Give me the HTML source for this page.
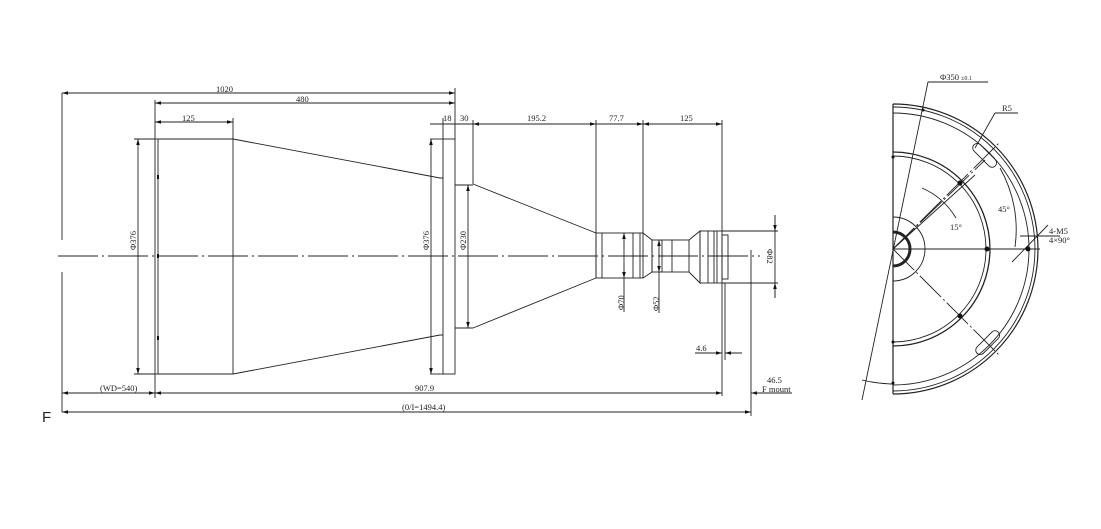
<!DOCTYPE html>
<html><head><meta charset="utf-8"><style>
html,body{margin:0;padding:0;background:#fff;width:1101px;height:529px;overflow:hidden}
svg{display:block}
text{font-family:"Liberation Serif",serif;font-size:8.5px;fill:#222}
</style></head><body>
<svg width="1101" height="529" viewBox="0 0 1101 529" xmlns="http://www.w3.org/2000/svg">
<defs>
<marker id="a" viewBox="0 0 10 6" refX="10" refY="3" markerWidth="8" markerHeight="4" orient="auto-start-reverse"><path d="M0,0L10,3L0,6z" fill="#111"/></marker>
</defs>
<g stroke="#222" stroke-width="0.9" fill="none">
<line x1="58" y1="256" x2="760" y2="256" stroke-dasharray="40,4,2,4"/>
<rect x="155" y="139" width="3" height="235"/>
<line x1="158" y1="139" x2="233" y2="139"/><line x1="158" y1="374" x2="233" y2="374"/>
<line x1="233" y1="139" x2="233" y2="374"/>
<path d="M233,139L440,178L443,178M440,335L233,374M440,335L443,335"/>
<line x1="430" y1="139" x2="443" y2="139"/><line x1="430" y1="374" x2="443" y2="374"/>
<rect x="443" y="139" width="12" height="235"/>
<line x1="455" y1="185" x2="473" y2="185"/><line x1="455" y1="328" x2="473" y2="328"/>
<path d="M473,184L596,233L596,278L473,328"/>
<rect x="596" y="233" width="47" height="45"/>
<line x1="602" y1="233" x2="602" y2="278"/><line x1="633" y1="233" x2="633" y2="278"/><line x1="640" y1="233" x2="640" y2="278"/>
<path d="M643,233L652,240L652,272L643,278"/>
<rect x="652" y="240" width="37" height="32"/>
<line x1="662" y1="240" x2="662" y2="272"/><line x1="672" y1="240" x2="672" y2="272"/>
<path d="M689,240L700,231L700,283L689,272"/>
<rect x="700" y="231" width="22" height="52"/>
<line x1="708" y1="231" x2="708" y2="283"/><line x1="714" y1="231" x2="714" y2="283"/><line x1="717" y1="231" x2="717" y2="283"/>
<rect x="722" y="235" width="6" height="44"/>
<line x1="62" y1="93" x2="455" y2="93" marker-start="url(#a)" marker-end="url(#a)"/>
<line x1="155" y1="103" x2="455" y2="103" marker-start="url(#a)" marker-end="url(#a)"/>
<line x1="155" y1="122" x2="233" y2="122" marker-start="url(#a)" marker-end="url(#a)"/>
<line x1="155" y1="100" x2="155" y2="139"/><line x1="233" y1="118" x2="233" y2="139"/>
<line x1="455" y1="88" x2="455" y2="139"/>
<line x1="443" y1="118" x2="443" y2="139"/>
<line x1="473" y1="120" x2="473" y2="184"/>
<line x1="596" y1="120" x2="596" y2="233"/><line x1="643" y1="120" x2="643" y2="233"/><line x1="722" y1="120" x2="722" y2="231"/>
<line x1="430" y1="124" x2="722" y2="124"/>
<line x1="473" y1="124" x2="596" y2="124" marker-start="url(#a)" marker-end="url(#a)"/>
<line x1="596" y1="124" x2="643" y2="124" marker-end="url(#a)"/>
<line x1="643" y1="124" x2="722" y2="124" marker-start="url(#a)" marker-end="url(#a)"/>
<line x1="138" y1="139" x2="138" y2="374" marker-start="url(#a)" marker-end="url(#a)"/>
<line x1="134" y1="139" x2="155" y2="139"/><line x1="134" y1="374" x2="155" y2="374"/>
<line x1="431" y1="139" x2="431" y2="374" marker-start="url(#a)" marker-end="url(#a)"/>
<line x1="468" y1="185" x2="468" y2="328" marker-start="url(#a)" marker-end="url(#a)"/>
<line x1="624" y1="233" x2="624" y2="278" marker-start="url(#a)" marker-end="url(#a)"/>
<line x1="624" y1="278" x2="624" y2="312"/>
<line x1="659" y1="240" x2="659" y2="272" marker-start="url(#a)" marker-end="url(#a)"/>
<line x1="659" y1="272" x2="659" y2="313"/>
<line x1="775" y1="215" x2="775" y2="298"/>
<line x1="722" y1="231" x2="778" y2="231"/><line x1="722" y1="283" x2="778" y2="283"/>
<line x1="775" y1="215" x2="775" y2="231" marker-end="url(#a)"/><line x1="775" y1="298" x2="775" y2="283" marker-end="url(#a)"/>
<line x1="62" y1="93" x2="62" y2="240"/><line x1="62" y1="272" x2="62" y2="412"/>
<line x1="155" y1="374" x2="155" y2="398"/>
<line x1="62" y1="393" x2="155" y2="393" marker-start="url(#a)" marker-end="url(#a)"/>
<line x1="155" y1="393" x2="722" y2="393" marker-start="url(#a)" marker-end="url(#a)"/>
<line x1="722" y1="283" x2="722" y2="396"/><line x1="725" y1="283" x2="725" y2="360"/>
<line x1="751" y1="250" x2="751" y2="416"/>
<line x1="762" y1="393" x2="751" y2="393" marker-end="url(#a)"/>
<line x1="751" y1="393" x2="792" y2="393"/>
<line x1="62" y1="412" x2="751" y2="412" marker-start="url(#a)" marker-end="url(#a)"/>
<line x1="695" y1="353" x2="722" y2="353" marker-end="url(#a)"/>
<line x1="742" y1="353" x2="725" y2="353" marker-end="url(#a)"/>
<line x1="893" y1="104" x2="893" y2="394" stroke-width="1.2"/>
<path d="M893,104A145,145 0 0 1 893,394" stroke-width="1.2"/>
<path d="M893,107A142,142 0 0 1 893,391"/>
<path d="M893,113A136,136 0 0 1 893,385"/>
<path d="M893,152A97,97 0 0 1 893,346" stroke-width="1.3"/>
<path d="M893,156A93,93 0 0 1 893,342"/>
<path d="M893,217A32,32 0 0 1 893,281"/>
<path d="M893,232A17,17 0 0 1 893,266" stroke-width="3"/>
<line x1="893" y1="249" x2="1040" y2="249" stroke-width="1"/>
<line x1="893" y1="249" x2="1000" y2="142" stroke-dasharray="30,3,2,3"/>
<line x1="893" y1="249" x2="985" y2="160" stroke-dasharray="30,3,2,3"/>
<line x1="893" y1="249" x2="1000" y2="356" stroke-dasharray="30,3,2,3"/>
<line x1="893" y1="249" x2="975" y2="175"/>
<line x1="928" y1="82" x2="862" y2="400"/>
<line x1="928" y1="82" x2="988" y2="82"/>
<line x1="995" y1="113" x2="1018" y2="113"/><line x1="995" y1="113" x2="975" y2="148"/>
<line x1="1020" y1="236" x2="1060" y2="236"/><line x1="1048" y1="225" x2="1012" y2="262"/>
<rect x="970" y="151" width="30" height="9" rx="4.5" transform="rotate(45 985 155)"/>
<rect x="973" y="338" width="30" height="9" rx="4.5" transform="rotate(-45 988 343)"/>
<path d="M922,188A74,74 0 0 1 956,218"/>
<path d="M1000,168A125,125 0 0 1 1015,247"/>
<path d="M862,380A140,140 0 0 0 893,384"/>
</g>
<g fill="#111">
<circle cx="960" cy="183" r="2.5"/><circle cx="987" cy="249" r="2.5"/><circle cx="960" cy="316" r="2.5"/><circle cx="1028" cy="249" r="2.5"/>
<circle cx="893" cy="157" r="1.5"/><circle cx="893" cy="342" r="1.5"/><circle cx="893" cy="383" r="1.5"/><circle cx="923" cy="110" r="1.5"/>
<rect x="157" y="175" width="2" height="4"/><rect x="157" y="254" width="2" height="4"/><rect x="157" y="336" width="2" height="4"/>
</g>
<text x="216" y="92">1020</text>
<text x="296" y="102">480</text>
<text x="182" y="121">125</text>
<text x="443" y="121">18</text><text x="460" y="121">30</text>
<text x="527" y="121">195.2</text><text x="609" y="121">77.7</text><text x="680" y="121">125</text>
<text x="100" y="391">(WD=540)</text>
<text x="415" y="391">907.9</text>
<text x="402" y="410">(0/I=1494.4)</text>
<text x="696" y="351">4.6</text>
<text x="767" y="383">46.5</text>
<text x="762" y="392" font-size="7">F mount</text>
<text transform="translate(136,250) rotate(-90)">Φ376</text>
<text transform="translate(429,250) rotate(-90)">Φ376</text>
<text transform="translate(466,250) rotate(-90)">Φ230</text>
<text transform="translate(624,310) rotate(-90)">Φ70</text>
<text transform="translate(659,311) rotate(-90)">Φ52</text>
<text transform="translate(767,249) rotate(90)">Φ82</text>
<text x="940" y="80" font-size="9">Φ350 <tspan font-size="6">±0.1</tspan></text>
<text x="1002" y="111">R5</text>
<text x="998" y="212" fill="#b06000">45°</text>
<text x="950" y="230">15°</text>
<text x="1049" y="234">4-M5</text>
<text x="1049" y="243">4×90°</text>
<text x="42" y="422" style="font-family:'Liberation Sans',sans-serif;font-size:15px">F</text>
</svg>
</body></html>
